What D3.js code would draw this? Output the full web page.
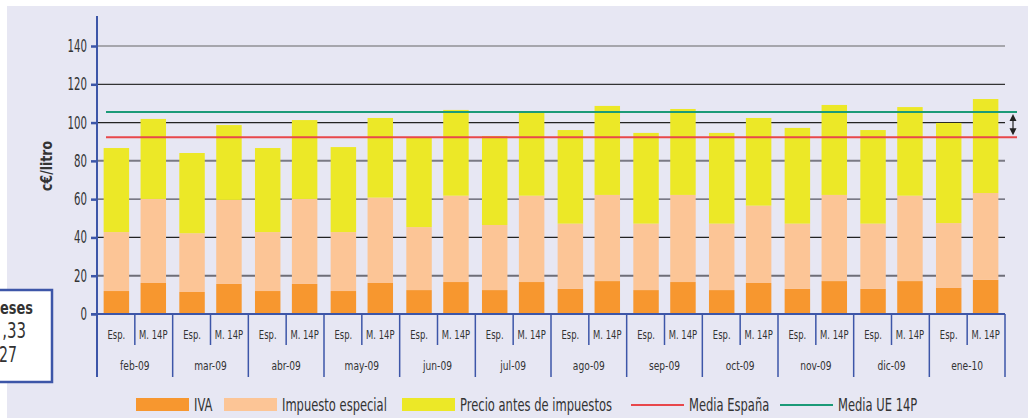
<!DOCTYPE html>
<html>
<head>
<meta charset="utf-8">
<script src="https://cdn.jsdelivr.net/npm/d3@7"></script>
<style>
  html, body { margin: 0; padding: 0; background: #ffffff; }
  svg { display: block; }
  text { font-family: "DejaVu Sans", sans-serif; fill: #333; }
</style>
</head>
<body>
<svg id="chart" width="1028" height="418"></svg>
<script>
// Months and the two price types compared each month
const months = ["feb-09","mar-09","abr-09","may-09","jun-09","jul-09","ago-09","sep-09","oct-09","nov-09","dic-09","ene-10"];
const kinds = ["Esp.", "M. 14P"];

// c€/litro, one entry per month: [España, media UE 14P]
const iva      = [[12.0,16.2],[11.5,15.7],[12.0,15.7],[12.0,16.2],[12.5,16.7],[12.5,16.7],[13.1,17.2],[12.5,16.7],[12.5,16.2],[13.1,17.2],[13.1,17.2],[13.6,17.8]];
const impuesto = [[30.8,43.9],[30.7,43.9],[30.8,44.4],[30.8,44.6],[32.9,45.1],[34.0,45.1],[34.1,45.0],[34.7,45.5],[34.7,40.4],[34.1,45.0],[34.1,44.6],[33.9,45.4]];
const precio   = [[43.9,41.8],[41.9,39.1],[43.9,41.2],[44.4,41.6],[46.7,44.8],[46.5,44.1],[48.9,46.5],[47.4,44.9],[47.4,45.8],[50.0,47.0],[48.9,46.3],[52.3,49.1]];

const mediaEspana = 92.3;
const mediaUE14P  = 105.5;
const yTicks = [0, 20, 40, 60, 80, 100, 120, 140];

const seriesNames = ["IVA", "Impuesto especial", "Precio antes de impuestos"];
const colors = ["#f7972f", "#fcc596", "#ece827"];
const lineNames = ["Media España", "Media UE 14P"];
const lineColors = ["#e8474b", "#1b9a78"];
const axisBlue = "#3d56a8";

// Narrow the glyphs of a text selection to mimic a condensed face
function condense(sel, f) {
  sel.each(function () {
    const len = this.getComputedTextLength();
    d3.select(this).attr("textLength", len * f).attr("lengthAdjust", "spacingAndGlyphs");
  });
  return sel;
}

// Flatten into one row per bar
const rows = [];
months.forEach((m, i) => kinds.forEach((k, j) => {
  rows.push({ month: m, kind: k, vals: [iva[i][j], impuesto[i][j], precio[i][j]] });
}));

const svg = d3.select("#chart");
svg.append("rect").attr("x", 7).attr("y", 6).attr("width", 1021).attr("height", 412).attr("fill", "#e7e7f3");

const plotLeft = 97, plotRight = 1005, plotTop = 46, plotBottom = 314;

const y = d3.scaleLinear().domain([0, 140]).range([plotBottom, plotTop]);
const xMonth = d3.scaleBand().domain(months).range([plotLeft, plotRight]);
const xKind = d3.scaleBand().domain(kinds).range([0, xMonth.bandwidth()]).paddingInner(0.31).paddingOuter(0.18);

// Horizontal grid lines
const gridStyle = { 20: ["#6e6e78", 2], 40: ["#222", 1.2], 60: ["#555560", 1.4], 80: ["#7a7a84", 2], 100: ["#222", 1.2], 120: ["#333", 1.2], 140: ["#666", 1.2] };
svg.append("g").selectAll("line").data(yTicks.filter(t => t > 0)).join("line")
  .attr("x1", plotLeft).attr("x2", plotRight)
  .attr("y1", d => y(d)).attr("y2", d => y(d))
  .attr("stroke", d => gridStyle[d][0]).attr("stroke-width", d => gridStyle[d][1]);

// Stacked bars
const stack = d3.stack().keys([0, 1, 2]).value((d, k) => d.vals[k]);
const stacked = stack(rows);
svg.append("g").selectAll("g").data(stacked).join("g")
  .attr("fill", (d, i) => colors[i])
  .selectAll("rect").data(d => d).join("rect")
  .attr("x", d => xMonth(d.data.month) + xKind(d.data.kind))
  .attr("width", xKind.bandwidth())
  .attr("y", d => y(d[1]))
  .attr("height", d => y(d[0]) - y(d[1]));

// Reference averages
const refs = [mediaEspana, mediaUE14P];
svg.append("g").selectAll("line").data(refs).join("line")
  .attr("x1", 106).attr("x2", 1017)
  .attr("y1", d => y(d)).attr("y2", d => y(d))
  .attr("stroke", (d, i) => lineColors[i]).attr("stroke-width", 2);

// Double-headed arrow showing the gap between both averages
const ax = 1013;
const ay1 = y(mediaUE14P) + 2, ay2 = y(mediaEspana) - 2;
svg.append("line").attr("x1", ax).attr("x2", ax).attr("y1", ay1 + 4).attr("y2", ay2 - 4)
  .attr("stroke", "#222").attr("stroke-width", 1.2);
svg.append("path").attr("d", `M${ax},${ay1} l-3.5,7 l7,0 Z M${ax},${ay2} l-3.5,-7 l7,0 Z`).attr("fill", "#222");

// Axes lines
svg.append("line").attr("x1", plotLeft).attr("x2", plotLeft).attr("y1", 16).attr("y2", 377)
  .attr("stroke", axisBlue).attr("stroke-width", 2);
svg.append("line").attr("x1", 91).attr("x2", plotRight).attr("y1", plotBottom).attr("y2", plotBottom)
  .attr("stroke", axisBlue).attr("stroke-width", 2);

const yAxis = d3.axisLeft(y).tickValues(yTicks).tickSize(6).tickPadding(4);
const gy = svg.append("g").attr("transform", `translate(${plotLeft},0)`).call(yAxis);
gy.select(".domain").remove();
gy.selectAll(".tick line").attr("stroke", axisBlue).attr("stroke-width", 2.5);
gy.selectAll(".tick text").attr("font-size", 17).attr("fill", "#333")
  .attr("font-family", "'DejaVu Sans', sans-serif");
condense(gy.selectAll(".tick text"), 0.6);

condense(svg.append("text").attr("transform", "translate(52,166) rotate(-90)")
  .attr("text-anchor", "middle").attr("font-size", 16).attr("font-weight", "bold").attr("fill", "#222")
  .text("c€/litro"), 0.78);

// Category axis: separators and labels
const xg = svg.append("g");
months.forEach((m) => {
  const x0 = xMonth(m);
  xg.append("line").attr("x1", x0).attr("x2", x0).attr("y1", plotBottom).attr("y2", 377)
    .attr("stroke", axisBlue).attr("stroke-width", 1.5);
  const mid = x0 + xMonth.bandwidth() / 2;
  xg.append("line").attr("x1", mid).attr("x2", mid).attr("y1", plotBottom).attr("y2", 345)
    .attr("stroke", axisBlue).attr("stroke-width", 1.5);
  kinds.forEach((k) => {
    condense(xg.append("text").attr("x", x0 + xKind(k) + xKind.bandwidth() / 2).attr("y", 339)
      .attr("text-anchor", "middle").attr("font-size", 12).text(k), 0.7);
  });
  condense(xg.append("text").attr("x", mid).attr("y", 370).attr("text-anchor", "middle")
    .attr("font-size", 13).text(m), 0.7);
});
xg.append("line").attr("x1", plotRight).attr("x2", plotRight).attr("y1", plotBottom).attr("y2", 377)
  .attr("stroke", axisBlue).attr("stroke-width", 1.5);

// Legend
const lg = svg.append("g");
const swatchX = [136, 224, 402];
seriesNames.forEach((n, i) => {
  lg.append("rect").attr("x", swatchX[i]).attr("y", 398).attr("width", 53).attr("height", 13).attr("fill", colors[i]);
  condense(lg.append("text").attr("x", swatchX[i] + 58).attr("y", 411).attr("font-size", 18).text(n), 0.64);
});
const lineX = [631, 780];
lineNames.forEach((n, i) => {
  lg.append("line").attr("x1", lineX[i]).attr("x2", lineX[i] + 53).attr("y1", 405).attr("y2", 405)
    .attr("stroke", lineColors[i]).attr("stroke-width", 2);
  condense(lg.append("text").attr("x", lineX[i] + 58).attr("y", 411).attr("font-size", 18).text(n), 0.64);
});

// Side note box, partly outside the page
const box = svg.append("g");
box.append("rect").attr("x", -10).attr("y", 290).attr("width", 62).attr("height", 92)
  .attr("fill", "#ffffff").attr("stroke", axisBlue).attr("stroke-width", 2.5);
condense(box.append("text").attr("x", 33).attr("y", 314).attr("text-anchor", "end")
  .attr("font-size", 17).attr("font-weight", "bold").attr("fill", "#222").text("Meses"), 0.76);
condense(box.append("text").attr("x", 26).attr("y", 338).attr("text-anchor", "end")
  .attr("font-size", 22).attr("fill", "#222").text(",33"), 0.68);
condense(box.append("text").attr("x", 17).attr("y", 362).attr("text-anchor", "end")
  .attr("font-size", 22).attr("fill", "#222").text("27"), 0.64);
</script>
</body>
</html>
